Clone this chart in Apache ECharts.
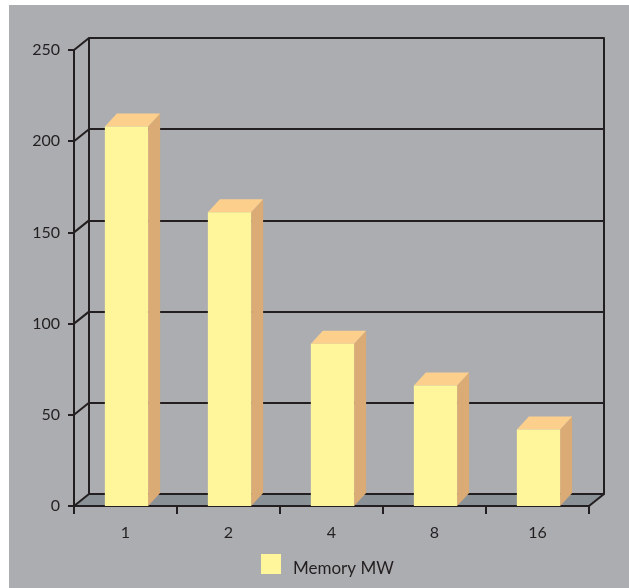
<!DOCTYPE html>
<html>
<head>
<meta charset="utf-8">
<script src="https://cdn.jsdelivr.net/npm/echarts@6/dist/echarts.min.js"></script>
<style>
  html, body { margin: 0; padding: 0; background: #ffffff; }
  #chart { width: 629px; height: 588px; }
</style>
</head>
<body>
<div id="chart"></div>
<script>
// Data
const categories = ['1', '2', '4', '8', '16'];
const memoryMW = [208, 161, 89, 66, 42];
const yTicks = [0, 50, 100, 150, 200, 250];
const seriesName = 'Memory MW';

// Pseudo-3D depth offsets (pixels)
const WALL_DX = 15, WALL_DY = -12;
const BAR_DX = 12, BAR_DY = -13;

const INK = '#231f20';
const FONT = 'Lato';

const chart = echarts.init(document.getElementById('chart'), null, { renderer: 'canvas' });

const yMin = yTicks[0];
const yMax = yTicks[yTicks.length - 1];
const yStep = yTicks[1] - yTicks[0];

// Floor plate and the receding edges from the front axis to the back wall
function frameItem(params, api) {
  const cs = params.coordSys;
  const v = api.value(0);
  const y = api.coord([0, v])[1];
  const lineStyle = { stroke: INK, lineWidth: 2 };
  const children = [];
  if (v === yMin) {
    const xl = cs.x, xr = cs.x + cs.width;
    children.push({
      type: 'polygon',
      shape: { points: [[xl, y], [xr, y], [xr + WALL_DX, y + WALL_DY], [xl + WALL_DX, y + WALL_DY]] },
      style: { fill: '#8a9197' }
    });
    children.push({
      type: 'line',
      shape: { x1: xr, y1: y, x2: xr + WALL_DX, y2: y + WALL_DY },
      style: lineStyle
    });
  }
  children.push({
    type: 'line',
    shape: { x1: cs.x, y1: y, x2: cs.x + WALL_DX, y2: y + WALL_DY },
    style: lineStyle
  });
  return { type: 'group', children };
}

// Column with a front face, a lit top and a shaded right side
function barItem(params, api) {
  const idx = api.value(0);
  const v = api.value(1);
  const top = api.coord([idx, v]);
  const base = api.coord([idx, 0]);
  const w = api.size([1, 0])[0] * 0.42;
  const x0 = top[0] - w / 2 + 1;
  const x1 = x0 + w;
  const yt = top[1], yb = base[1];
  return {
    type: 'group',
    children: [
      {
        type: 'polygon',
        shape: { points: [[x1, yt], [x1 + BAR_DX, yt + BAR_DY], [x1 + BAR_DX, yb + BAR_DY], [x1, yb]] },
        style: { fill: '#dbab76' }
      },
      {
        type: 'polygon',
        shape: { points: [[x0, yt], [x0 + BAR_DX, yt + BAR_DY], [x1 + BAR_DX, yt + BAR_DY], [x1, yt]] },
        style: { fill: '#fccf8d' }
      },
      {
        type: 'rect',
        shape: { x: x0, y: yt, width: w, height: yb - yt },
        style: { fill: '#fff59b' }
      }
    ]
  };
}

const option = {
  backgroundColor: '#ffffff',
  animation: false,
  graphic: [{
    type: 'rect',
    left: 9, top: 5,
    shape: { width: 620, height: 583 },
    style: { fill: '#acadb0' },
    z: -10,
    silent: true
  }],
  legend: {
    data: [seriesName],
    left: 256,
    top: 549,
    itemWidth: 20,
    itemHeight: 20,
    icon: 'rect',
    formatter: '{t|{name}}',
    textStyle: {
      color: INK, fontSize: 17, fontFamily: FONT,
      rich: { t: { color: INK, fontSize: 17, fontFamily: FONT, padding: [10, 0, 0, 7] } }
    }
  },
  grid: [
    { left: 74, right: 40, top: 50, bottom: 82, containLabel: false },
    { left: 89, right: 25, top: 38, bottom: 94, containLabel: false }
  ],
  xAxis: [
    {
      gridIndex: 0,
      type: 'category',
      data: categories,
      z: 3,
      axisLine: { lineStyle: { color: INK, width: 2 } },
      axisTick: { show: true, length: 8, lineStyle: { color: INK, width: 2 } },
      axisLabel: { color: INK, fontSize: 16, fontFamily: FONT, margin: 19 },
      splitLine: { show: false }
    },
    {
      gridIndex: 1,
      type: 'category',
      data: categories,
      show: false
    }
  ],
  yAxis: [
    {
      gridIndex: 0,
      type: 'value',
      min: yMin, max: yMax, interval: yStep,
      z: 3,
      axisLine: { show: true, lineStyle: { color: INK, width: 2 } },
      axisTick: { show: true, length: 6, lineStyle: { color: INK, width: 2 } },
      axisLabel: { color: INK, fontSize: 16, fontFamily: FONT, margin: 14 },
      splitLine: { show: false }
    },
    {
      gridIndex: 1,
      type: 'value',
      min: yMin, max: yMax, interval: yStep,
      z: 3,
      axisLine: { show: true, lineStyle: { color: INK, width: 2 } },
      axisTick: { show: false },
      axisLabel: { show: false },
      splitLine: { show: true, lineStyle: { color: INK, width: 2 } }
    },
    {
      gridIndex: 1,
      type: 'value',
      position: 'right',
      min: yMin, max: yMax, interval: yStep,
      z: 3,
      axisLine: { show: true, lineStyle: { color: INK, width: 2 } },
      axisTick: { show: false },
      axisLabel: { show: false },
      splitLine: { show: false }
    }
  ],
  series: [
    {
      name: 'frame',
      type: 'custom',
      xAxisIndex: 0,
      yAxisIndex: 0,
      z: 1,
      silent: true,
      renderItem: frameItem,
      data: yTicks.map(v => [v])
    },
    {
      name: seriesName,
      type: 'custom',
      xAxisIndex: 0,
      yAxisIndex: 0,
      z: 5,
      itemStyle: { color: '#fff59b' },
      renderItem: barItem,
      encode: { x: 0, y: 1 },
      data: memoryMW.map((v, i) => [i, v])
    }
  ]
};

chart.setOption(option);
</script>
</body>
</html>
